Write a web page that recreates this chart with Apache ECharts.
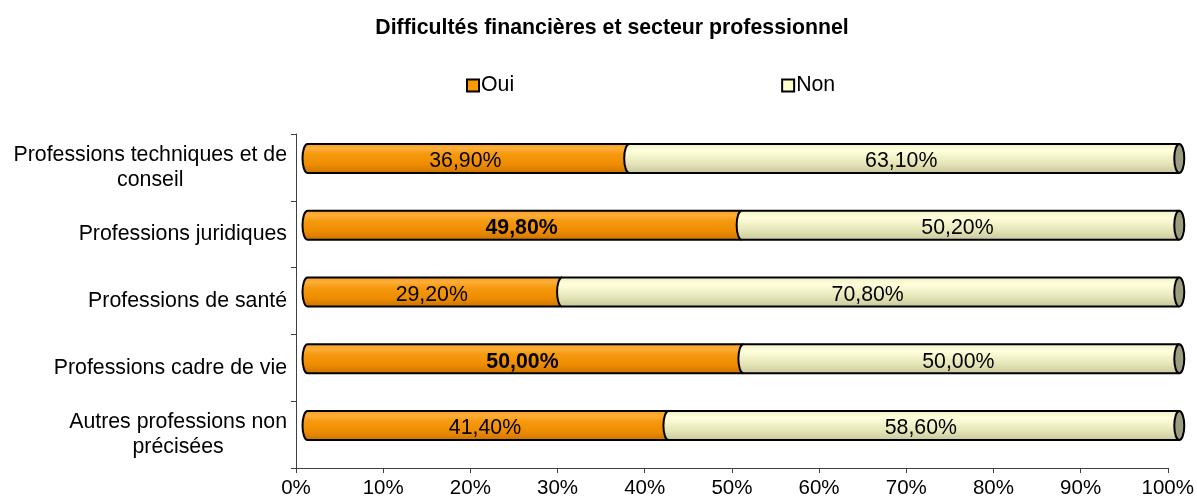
<!DOCTYPE html>
<html>
<head>
<meta charset="utf-8">
<script src="https://cdn.jsdelivr.net/npm/echarts@6/dist/echarts.min.js"></script>
<style>
  html, body { margin: 0; padding: 0; background: #fff; }
  #main { width: 1197px; height: 502px; }
</style>
</head>
<body>
<div id="main"></div>
<script>
var categories = [
  'Professions techniques et de\nconseil',
  'Professions juridiques',
  'Professions de santé',
  'Professions cadre de vie',
  'Autres professions non\nprécisées'
];
var oui = [36.9, 49.8, 29.2, 50.0, 41.4];
var non = [63.1, 50.2, 70.8, 50.0, 58.6];
var xTicks = [0, 10, 20, 30, 40, 50, 60, 70, 80, 90, 100];

var FONT = "'Liberation Sans', Arial, sans-serif";
var FS = 21.3;
// rows whose Oui label is printed in bold
var boldRows = [1, 3];
// fake 3D offset of the cylinders
var DX = 11.5, DY = -9, H = 29, RX = 5;

var orangeFill = new echarts.graphic.LinearGradient(0, 0, 0, 1, [
  { offset: 0, color: '#F29A22' },
  { offset: 0.18, color: '#FFAE3A' },
  { offset: 0.35, color: '#F69A10' },
  { offset: 0.7, color: '#EE8C00' },
  { offset: 1, color: '#C87200' }
]);
var creamFill = new echarts.graphic.LinearGradient(0, 0, 0, 1, [
  { offset: 0, color: '#EDEDC4' },
  { offset: 0.25, color: '#FFFFDC' },
  { offset: 0.65, color: '#E6E6B8' },
  { offset: 1, color: '#C6C69C' }
]);

function fmt(v) {
  return v.toFixed(2).replace('.', ',') + '%';
}

function makeRender(fill, isLast) {
  return function (params, api) {
    var cat = api.value(0);
    var s = api.value(1), e = api.value(2);
    var p0 = api.coord([s, cat]);
    var p1 = api.coord([e, cat]);
    var x0 = p0[0] + DX, x1 = p1[0] + DX;
    var yc = p0[1] + DY;
    var top = yc - H / 2, bot = yc + H / 2, ry = H / 2;
    var d = 'M' + x1 + ' ' + top + ' L' + x0 + ' ' + top +
      ' A' + RX + ' ' + ry + ' 0 0 0 ' + x0 + ' ' + bot +
      ' L' + x1 + ' ' + bot;
    var children = [{
      type: 'path',
      shape: { pathData: d },
      style: { fill: fill, stroke: '#000', lineWidth: 2 }
    }];
    if (isLast) {
      children.push({
        type: 'path',
        shape: {
          pathData: 'M' + x1 + ' ' + top +
            ' A' + RX + ' ' + ry + ' 0 1 1 ' + x1 + ' ' + bot +
            ' A' + RX + ' ' + ry + ' 0 1 1 ' + x1 + ' ' + top + ' Z'
        },
        style: { fill: '#9C9C7E', stroke: '#000', lineWidth: 2 }
      });
    }
    var bold = !isLast && boldRows.indexOf(cat) >= 0;
    children.push({
      type: 'text',
      x: (x0 + x1) / 2 - 3,
      y: yc + 3,
      style: {
        text: fmt(e - s),
        fill: '#000',
        font: (bold ? 'bold ' : '') + FS + 'px ' + FONT,
        align: 'center',
        verticalAlign: 'middle'
      }
    });
    return { type: 'group', children: children };
  };
}

var ouiData = [], nonData = [];
categories.forEach(function (c, i) {
  ouiData.push([i, 0, oui[i]]);
  nonData.push([i, oui[i], oui[i] + non[i]]);
});

// multi-line category labels: lines centred inside a right-aligned block
var ctx = document.createElement('canvas').getContext('2d');
ctx.font = FS + 'px ' + FONT;
var rich = {};
categories.forEach(function (c, i) {
  var lines = c.split('\n');
  var ws = lines.map(function (l) { return ctx.measureText(l).width; });
  var w = Math.max.apply(null, ws);
  lines.forEach(function (l, j) {
    rich['c' + i + '_' + j] = {
      fontSize: FS, fontFamily: FONT, color: '#000', lineHeight: 25,
      padding: [0, (w - ws[j]) / 2, 0, 0]
    };
  });
});

var chart = echarts.init(document.getElementById('main'), null, { renderer: 'canvas' });
chart.setOption({
  backgroundColor: '#fff',
  animation: false,
  title: {
    text: 'Difficultés financières et secteur professionnel',
    left: 607, textAlign: 'center', top: 13,
    textStyle: { fontFamily: FONT, fontSize: FS, fontWeight: 'bold', color: '#000' }
  },
  legend: {
    left: 466, top: 75, padding: 0,
    itemWidth: 12, itemHeight: 12, itemGap: 267,
    icon: 'rect',
    textStyle: { fontFamily: FONT, fontSize: FS, color: '#000', padding: [0, 0, 0, -3] },
    data: [
      { name: 'Oui', itemStyle: { color: '#FF9900', borderColor: '#000', borderWidth: 2 } },
      { name: 'Non', itemStyle: { color: '#FFFFCC', borderColor: '#000', borderWidth: 2 } }
    ]
  },
  grid: { left: 296, right: 28, top: 134, bottom: 34, containLabel: false },
  xAxis: {
    type: 'value', min: 0, max: 100, interval: 10,
    splitLine: { show: false },
    axisLine: { show: true, lineStyle: { color: '#404040', width: 1 } },
    axisTick: { show: true, length: 5, lineStyle: { color: '#404040' } },
    axisLabel: {
      margin: 10, color: '#000', fontFamily: FONT, fontSize: 20.5,
      formatter: function (v) { return xTicks.indexOf(v) >= 0 ? v + '%' : ''; }
    }
  },
  yAxis: {
    type: 'category', inverse: true, data: categories,
    axisLine: { show: true, lineStyle: { color: '#404040', width: 1 } },
    axisTick: { show: true, length: 5, lineStyle: { color: '#404040' } },
    axisLabel: {
      margin: 9, color: '#000', fontFamily: FONT, fontSize: FS, align: 'right',
      rich: rich,
      formatter: function (v, i) {
        return v.split('\n').map(function (l, j) { return '{c' + i + '_' + j + '|' + l + '}'; }).join('\n');
      }
    }
  },
  series: [
    {
      name: 'Oui', type: 'custom', renderItem: makeRender(orangeFill, false),
      itemStyle: { color: '#FF9900' },
      encode: { x: [1, 2], y: 0 }, data: ouiData
    },
    {
      name: 'Non', type: 'custom', renderItem: makeRender(creamFill, true),
      itemStyle: { color: '#FFFFCC' },
      encode: { x: [1, 2], y: 0 }, data: nonData
    }
  ]
});
</script>
</body>
</html>
